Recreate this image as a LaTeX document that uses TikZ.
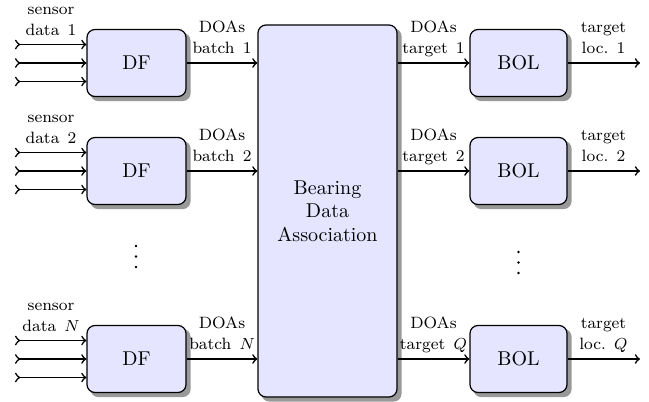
\documentclass[tikz,border=0pt]{standalone}
\usetikzlibrary{arrows,calc,backgrounds}
\begin{document}
\begin{tikzpicture}[x=0.5pt,y=-0.5pt,>=to,
  blk/.style={draw=black, line width=0.6pt, rounded corners=4pt, fill=blue!10,
    font=\fontsize{10}{11.7}\selectfont},
  shadowbox/.style={fill=black!40, draw=none, rounded corners=4pt},
  dfbox/.style={blk, minimum width=49.5pt, minimum height=33.5pt, inner sep=0pt},
  bolbox/.style={blk, minimum width=48.5pt, minimum height=33.5pt, inner sep=0pt},
  lbl/.style={align=center, font=\fontsize{8.2}{10.5}\selectfont, anchor=base, inner sep=0pt},
  arr/.style={->, line width=0.8pt},
  inarr/.style={>->, line width=0.8pt},
  dotmark/.style={fill=black, draw=none}]
\useasboundingbox (0,0) rectangle (649,402);

% blocks
\node[dfbox] (df1) at (136.5,63) {DF};
\node[dfbox] (df2) at (136.5,171) {DF};
\node[dfbox] (dfn) at (136.5,359) {DF};
\node[blk, minimum width=69.5pt, minimum height=186pt, align=center] (bda) at (327.5,211) {Bearing\\Data\\Association};
\node[bolbox] (bol1) at (518.5,63) {BOL};
\node[bolbox] (bol2) at (518.5,171) {BOL};
\node[bolbox] (bolq) at (518.5,359) {BOL};

% shadows
\begin{scope}[on background layer]
\foreach \b in {df1,df2,dfn,bda,bol1,bol2,bolq}
  \fill[shadowbox] ($(\b.south west)+(2pt,-2pt)$) rectangle ($(\b.north east)+(2pt,-2pt)$);
\end{scope}

% input arrows
\foreach \r/\y in {1/63,2/171,n/359}{
  \coordinate (in\r a) at ($(15,\y)+(0,-18.5)$);
  \coordinate (in\r b) at (15,\y);
  \coordinate (in\r c) at ($(15,\y)+(0,18.5)$);
  \draw[inarr] (in\r a) -- (in\r a -| df\r.west);
  \draw[inarr] (in\r b) -- (in\r b -| df\r.west);
  \draw[inarr] (in\r c) -- (in\r c -| df\r.west);
}

% DF -> association
\draw[arr] (df1.east) -- (df1.east -| bda.west);
\draw[arr] (df2.east) -- (df2.east -| bda.west);
\draw[arr] (dfn.east) -- (dfn.east -| bda.west);

% association -> BOL
\draw[arr] (bol1.west -| bda.east) -- (bol1.west);
\draw[arr] (bol2.west -| bda.east) -- (bol2.west);
\draw[arr] (bolq.west -| bda.east) -- (bolq.west);

% outputs
\coordinate (out1) at (640,63);
\coordinate (out2) at (640,171);
\coordinate (outq) at (640,359);
\draw[arr] (bol1.east) -- (out1);
\draw[arr] (bol2.east) -- (out2);
\draw[arr] (bolq.east) -- (outq);

% labels
\node[lbl] (ls1) at (51,35) {sensor\\data\hspace{0.5em}1};
\node[lbl] (ls2) at (51,143) {sensor\\data\hspace{0.5em}2};
\node[lbl] (lsn) at (51,331) {sensor\\data\hspace{0.5em}$N$};

\node[lbl] (lb1) at (222,53.5) {DOAs\\batch\hspace{0.5em}1};
\node[lbl] (lb2) at (222,161.5) {DOAs\\batch\hspace{0.5em}2};
\node[lbl] (lbn) at (222,349.5) {DOAs\\batch\hspace{0.5em}$N$};

\node[lbl] (lt1) at (433.5,53.5) {DOAs\\target\hspace{0.5em}1};
\node[lbl] (lt2) at (433.5,161.5) {DOAs\\target\hspace{0.5em}2};
\node[lbl] (ltq) at (433.5,349.5) {DOAs\\target\hspace{0.5em}$Q$};

\node[lbl] (lo1) at (603.5,53.5) {target\\loc.\hspace{0.5em}1};
\node[lbl] (lo2) at (603.5,161.5) {target\\loc.\hspace{0.5em}2};
\node[lbl] (loq) at (603.5,349.5) {target\\loc.\hspace{0.5em}$Q$};

% vertical dots
\foreach \yy in {246,256.5,267} \fill[dotmark] (136,\yy) circle (0.65pt);
\foreach \yy in {252,262.5,273} \fill[dotmark] (518.5,\yy) circle (0.65pt);
\end{tikzpicture}
\end{document}
